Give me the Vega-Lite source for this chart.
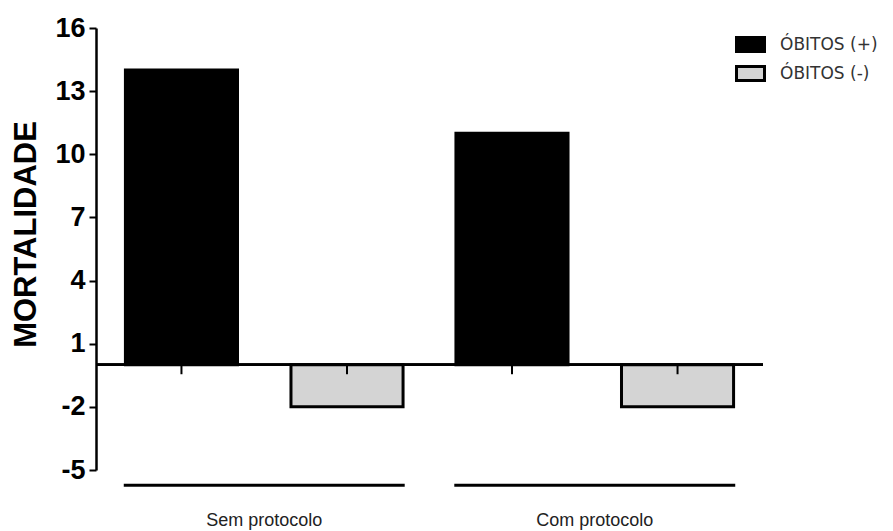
{
  "$schema": "https://vega.github.io/schema/vega-lite/v6.json",
  "width": 667,
  "height": 442,
  "autosize": "none",
  "padding": {"left": 96, "top": 28, "right": 130, "bottom": 61},
  "background": "white",
  "config": {"view": {"stroke": null}, "font": "Liberation Sans"},
  "datasets": {
    "bars": [
      {"group": "Sem protocolo", "series": "ÓBITOS (+)", "value": 14},
      {"group": "Sem protocolo", "series": "ÓBITOS (-)", "value": -2},
      {"group": "Com protocolo", "series": "ÓBITOS (+)", "value": 11},
      {"group": "Com protocolo", "series": "ÓBITOS (-)", "value": -2}
    ],
    "groups": [
      {"group": "Sem protocolo"},
      {"group": "Com protocolo"}
    ]
  },
  "data": {"name": "bars"},
  "layer": [
    {
      "mark": {"type": "bar", "stroke": "black", "strokeWidth": 3},
      "encoding": {
        "x": {
          "field": "group", "type": "nominal",
          "sort": ["Sem protocolo", "Com protocolo"],
          "scale": {"paddingInner": 0.15, "paddingOuter": 0.084},
          "axis": {"title": null, "domain": false, "ticks": false, "labelAngle": 0, "labelPadding": 41, "labelFontSize": 18, "labelColor": "#222"}
        },
        "xOffset": {
          "field": "series", "type": "nominal",
          "scale": {"domain": ["ÓBITOS (+)", "ÓBITOS (-)"], "paddingInner": 0.323, "paddingOuter": 0.01}
        },
        "y": {
          "field": "value", "type": "quantitative",
          "scale": {"domain": [-5, 16], "nice": false, "zero": false},
          "axis": {
            "values": [-5, -2, 1, 4, 7, 10, 13, 16],
            "labelExpr": "'' + datum.value",
            "grid": false,
            "domainColor": "black", "domainWidth": 2.5,
            "tickColor": "black", "tickWidth": 2, "tickSize": 7,
            "labelPadding": 4, "labelFontSize": 27, "labelFontWeight": "bold", "labelColor": "black",
            "title": "MORTALIDADE", "titleFontSize": 31, "titleFontWeight": "bold", "titleColor": "black",
            "titleX": -54, "titleY": 206
          }
        },
        "color": {
          "field": "series", "type": "nominal",
          "scale": {"domain": ["ÓBITOS (+)", "ÓBITOS (-)"], "range": ["#000000", "#d4d4d4"]},
          "legend": {
            "title": null, "orient": "none", "legendX": 639, "legendY": 1,
            "symbolType": "M-1,-0.5H1V0.5H-1Z", "symbolSize": 784,
            "symbolStrokeColor": "black", "symbolStrokeWidth": 3,
            "labelFont": "DejaVu Sans", "labelFontSize": 17, "labelColor": "#333", "labelOffset": 14, "rowPadding": -5
          }
        }
      }
    },
    {
      "mark": {"type": "rule", "color": "black", "strokeWidth": 2.5},
      "encoding": {"y": {"datum": 0}}
    },
    {
      "mark": {"type": "rule", "color": "black", "strokeWidth": 2},
      "encoding": {
        "x": {"field": "group", "type": "nominal", "sort": ["Sem protocolo", "Com protocolo"]},
        "xOffset": {"field": "series", "type": "nominal"},
        "y": {"datum": 0},
        "y2": {"datum": -0.45}
      }
    },
    {
      "data": {"name": "groups"},
      "mark": {"type": "bar", "color": "black"},
      "encoding": {
        "x": {"field": "group", "type": "nominal", "sort": ["Sem protocolo", "Com protocolo"]},
        "y": {"datum": -5.65},
        "y2": {"datum": -5.79}
      }
    }
  ]
}
